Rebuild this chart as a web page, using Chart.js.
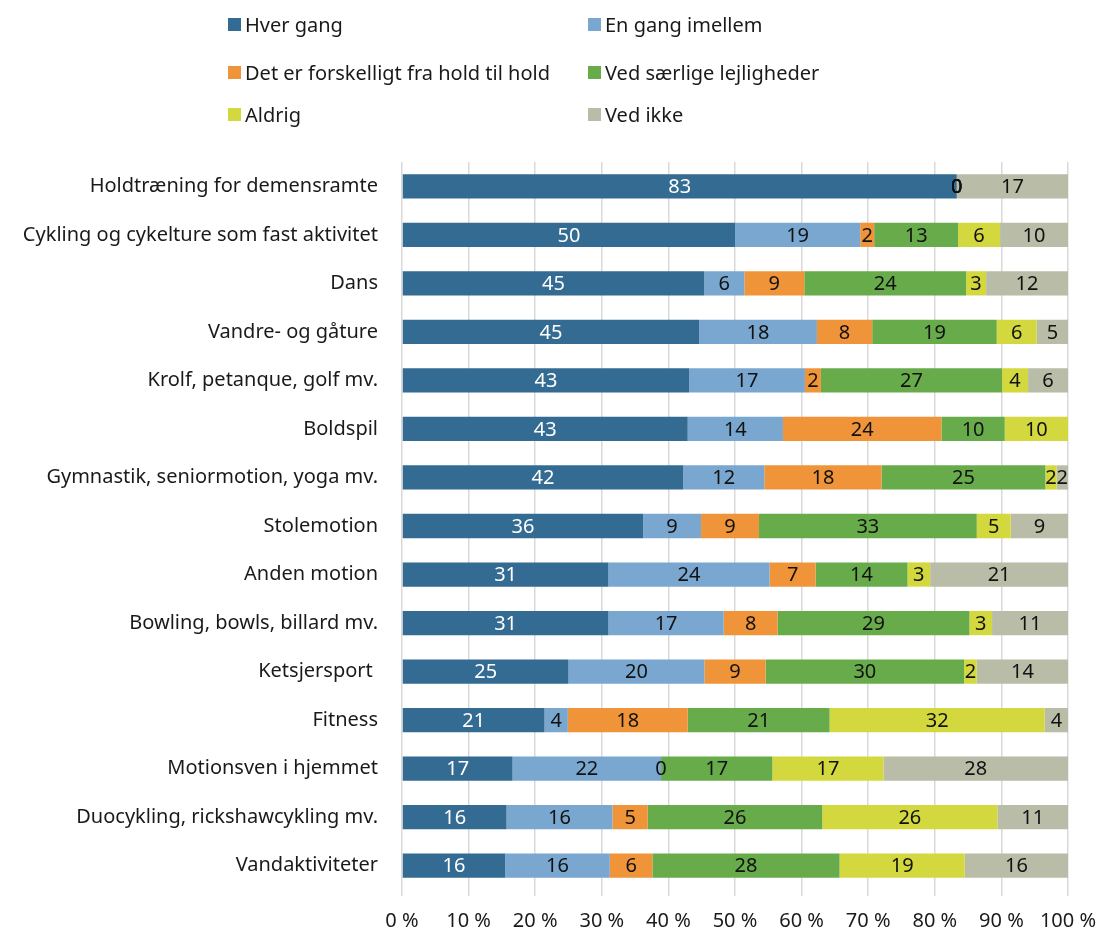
<!DOCTYPE html>
<html><head><meta charset="utf-8">
<script src="https://cdn.jsdelivr.net/npm/chart.js@4"></script>
<style>
html,body{margin:0;padding:0;background:#fff;}
#wrap{position:relative;width:1100px;height:932px;}
#c{position:absolute;left:0;top:0;}
#legend{position:absolute;left:0;top:0;width:1100px;height:140px;font-family:"Noto Sans",sans-serif;font-size:20px;color:#1a1a1a}
.li{position:absolute;display:flex;align-items:center;white-space:nowrap;height:26px}
.sw{width:13px;height:13px;margin-right:4px}
</style></head>
<body><div id="wrap"><canvas id="c" width="1100" height="932" style="width:1100px;height:932px"></canvas><div id="legend"></div></div>
<script>
const categories = ["Holdtræning for demensramte", "Cykling og cykelture som fast aktivitet", "Dans", "Vandre- og gåture", "Krolf, petanque, golf mv.", "Boldspil", "Gymnastik, seniormotion, yoga mv.", "Stolemotion", "Anden motion", "Bowling, bowls, billard mv.", "Ketsjersport ", "Fitness", "Motionsven i hjemmet", "Duocykling, rickshawcykling mv.", "Vandaktiviteter"];
const seriesNames = ["Hver gang", "En gang imellem", "Det er forskelligt fra hold til hold", "Ved særlige lejligheder", "Aldrig", "Ved ikke"];
const hverGang    = [83.3, 50.0, 45.4, 44.6, 43.1, 42.9, 42.2, 36.2, 31.0, 31.0, 25.0, 21.4, 16.6, 15.7, 15.5];
const enGang      = [0, 18.8, 6.0, 17.7, 17.4, 14.3, 12.2, 8.7, 24.2, 17.3, 20.4, 3.5, 22.3, 15.9, 15.7];
const forskelligt = [0, 2.1, 9.0, 8.3, 2.4, 23.8, 17.6, 8.7, 6.9, 8.1, 9.2, 18.0, 0, 5.3, 6.4];
const saerlige    = [0, 12.6, 24.3, 18.7, 27.2, 9.5, 24.6, 32.7, 13.8, 28.8, 29.8, 21.3, 16.7, 26.2, 28.1];
const aldrig      = [0, 6.3, 3.0, 6.0, 3.9, 9.5, 1.7, 5.1, 3.4, 3.4, 1.9, 32.3, 16.7, 26.3, 18.8];
const vedIkke     = [16.7, 10.2, 12.3, 4.7, 6.0, null, 1.7, 8.6, 20.7, 11.4, 13.7, 3.5, 27.7, 10.6, 15.5];
const xTicks = [0, 10, 20, 30, 40, 50, 60, 70, 80, 90, 100];

const colors = ["#346b92", "#7aa7d0", "#f0943a", "#67ab4b", "#d3d83e", "#b9bca6"];
const labelColors = ["#ffffff", "#111111", "#111111", "#111111", "#111111", "#111111"];
const allSeries = [hverGang, enGang, forskelligt, saerlige, aldrig, vedIkke];
const FONT = "'Noto Sans', sans-serif";
const FSIZE = 20;

const datasets = allSeries.map((d, i) => ({
  label: seriesNames[i], data: d, backgroundColor: colors[i], borderWidth: 0,
  barPercentage: 0.5, categoryPercentage: 1.0
}));

const labelPlugin = {
  id: 'segLabels',
  afterDatasetsDraw(chart) {
    const ctx = chart.ctx;
    ctx.save();
    ctx.font = FSIZE + "px " + FONT;
    ctx.textAlign = "center";
    ctx.textBaseline = "middle";
    chart.data.datasets.forEach((ds, di) => {
      const meta = chart.getDatasetMeta(di);
      meta.data.forEach((el, i) => {
        const v = ds.data[i];
        if (v === null || v === undefined) return;
        ctx.fillStyle = labelColors[di];
        ctx.fillText(String(Math.round(v)), (el.x + el.base) / 2, el.y + 1);
      });
    });
    ctx.restore();
  }
};

const chart = new Chart(document.getElementById('c'), {
  type: 'bar',
  data: { labels: categories, datasets },
  plugins: [labelPlugin],
  options: {
    indexAxis: 'y', responsive: false, animation: false, devicePixelRatio: 1,
    layout: { padding: { left: 0, right: 32, top: 162, bottom: 0 } },
    plugins: { legend: { display: false }, tooltip: { enabled: false } },
    scales: {
      x: {
        stacked: true, min: 0, max: 100,
        afterBuildTicks(scale) { scale.ticks = xTicks.map(v => ({ value: v })); },
        afterFit(scale) { scale.height = 42; scale.paddingLeft = 0; scale.paddingRight = 0; },
        grid: { color: "#d9d9d9", lineWidth: 1.5, tickLength: 6, drawTicks: true },
        border: { display: false },
        ticks: { font: { family: FONT, size: FSIZE }, color: "#1a1a1a", padding: 13, maxRotation: 0,
                 callback: v => v + " %" }
      },
      y: {
        stacked: true,
        afterFit(scale) { scale.width = 402; scale.paddingTop = 0; scale.paddingBottom = 0; },
        grid: { display: false }, border: { display: false },
        ticks: { font: { family: FONT, size: FSIZE }, color: "#1a1a1a", padding: 16 }
      }
    }
  }
});

const legendPos = [[228, 11], [588, 11], [228, 59], [588, 59], [228, 101], [588, 101]];
const leg = document.getElementById('legend');
chart.data.datasets.forEach((ds, i) => {
  const d = document.createElement('div');
  d.className = 'li';
  d.style.left = legendPos[i][0] + 'px';
  d.style.top = legendPos[i][1] + 'px';
  const sw = document.createElement('span');
  sw.className = 'sw'; sw.style.background = ds.backgroundColor;
  const t = document.createElement('span'); t.textContent = ds.label;
  d.appendChild(sw); d.appendChild(t); leg.appendChild(d);
});
</script>
</body></html>
